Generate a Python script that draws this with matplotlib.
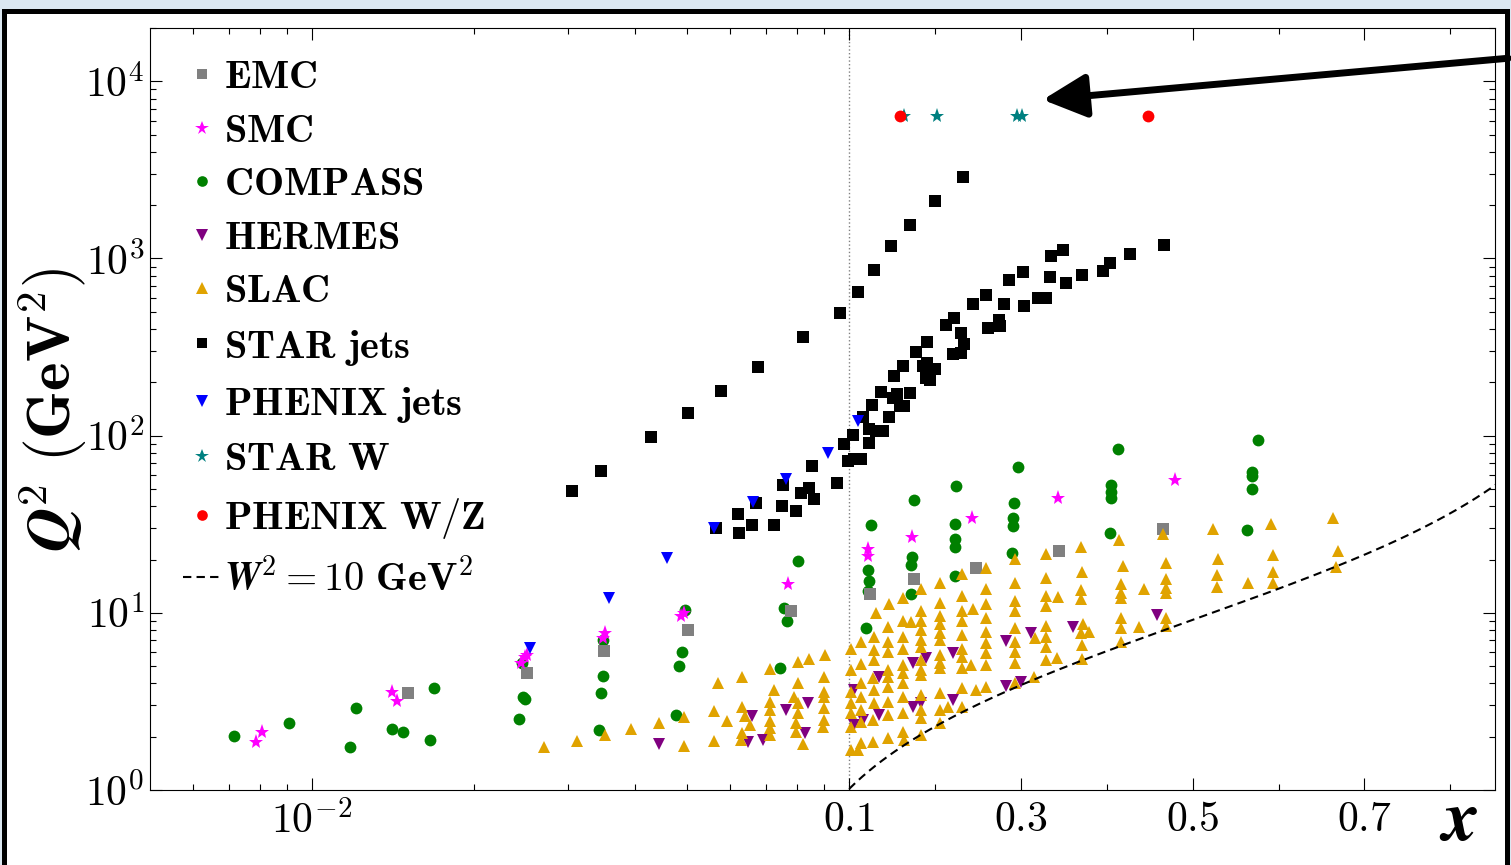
import numpy as np
import matplotlib
matplotlib.use('Agg')
import matplotlib.pyplot as plt
from matplotlib.patches import Rectangle, FancyArrowPatch

plt.rcParams['font.family'] = 'serif'
plt.rcParams['font.serif'] = ['cmr10']
plt.rcParams['mathtext.fontset'] = 'cm'
plt.rcParams['axes.formatter.use_mathtext'] = True

# %%
# Kinematic coverage, values (x, Q^2 in GeV^2)
emc_x = [0.0151, 0.0252, 0.0350, 0.0502, 0.0780, 0.124, 0.176, 0.248, 0.344, 0.466]
emc_q2 = [3.51, 4.55, 6.06, 8.05, 10.3, 12.8, 15.6, 18.0, 22.4, 29.8]

smc_x = [0.00787, 0.00807, 0.0141, 0.0144, 0.0245, 0.0249, 0.0252, 0.0349, 0.0351,
         0.0487, 0.0492, 0.0770, 0.122, 0.122, 0.173, 0.243, 0.343, 0.480]
smc_q2 = [1.86, 2.12, 3.56, 3.17, 5.18, 5.60, 5.75, 7.17, 7.65,
          9.65, 10.0, 14.6, 23.0, 21.0, 26.9, 34.4, 44.5, 56.2]

compass_x = [0.00716, 0.00906, 0.0118, 0.0121, 0.0141, 0.0148, 0.0166, 0.0169,
             0.0243, 0.0247, 0.0249, 0.0246,
             0.0342, 0.0345, 0.0349, 0.0349,
             0.0477, 0.0483, 0.0489, 0.0494,
             0.0744, 0.0757, 0.0767, 0.0804,
             0.120, 0.122, 0.123, 0.122, 0.126,
             0.172, 0.173, 0.172, 0.176,
             0.223, 0.223, 0.223, 0.223, 0.224,
             0.290, 0.291, 0.291, 0.292, 0.297,
             0.404, 0.405, 0.405, 0.405, 0.413,
             0.563, 0.569, 0.569, 0.569, 0.576]
compass_q2 = [2.01, 2.38, 1.75, 2.89, 2.20, 2.12, 1.91, 3.75,
              2.51, 3.34, 3.25, 5.18,
              2.18, 3.51, 4.38, 6.98,
              2.64, 4.99, 5.98, 10.4,
              4.86, 10.6, 9.05, 19.7,
              8.16, 17.5, 15.2, 13.35, 31.4,
              18.7, 20.7, 12.84, 43.4,
              16.2, 23.6, 26.2, 31.8, 52.0,
              21.8, 31.0, 34.4, 41.7, 66.6,
              28.3, 44.5, 48.0, 52.7, 84.0,
              29.4, 50.0, 59.5, 62.5, 94.4]

hermes_x = [0.0442, 0.0649, 0.0660, 0.0692, 0.0764, 0.0829, 0.0839, 0.106, 0.106,
            0.116, 0.135, 0.135, 0.174, 0.190, 0.174, 0.184, 0.221, 0.221,
            0.283, 0.300, 0.283, 0.312, 0.361, 0.459]
hermes_q2 = [1.82, 1.86, 2.61, 1.91, 2.82, 2.09, 3.09, 3.65, 2.32,
             2.48, 4.32, 2.64, 5.18, 5.53, 2.93, 3.09, 5.90, 3.21,
             3.85, 4.05, 6.89, 7.65, 8.27, 9.78]

slac_x = [0.0271, 0.0312, 0.0351, 0.0392, 0.0442, 0.0492, 0.0492, 0.0561, 0.0561, 0.0571,
          0.0593, 0.0633, 0.0633, 0.0641, 0.0633, 0.0630, 0.0655,
          0.0713, 0.0726, 0.0713, 0.0713, 0.0713, 0.0713, 0.0713,
          0.0804, 0.0843, 0.0903, 0.0804, 0.0790, 0.0804, 0.0804, 0.0797, 0.0797,
          0.0899, 0.0899, 0.0899, 0.0899, 0.0899, 0.0895, 0.0822,
          0.102, 0.102, 0.102, 0.102, 0.102, 0.102, 0.102,
          0.114, 0.114, 0.114, 0.114, 0.114, 0.114, 0.114, 0.1105,
          0.131, 0.129, 0.129, 0.129, 0.128, 0.129, 0.129, 0.128, 0.128,
          0.1465, 0.145, 0.145, 0.145, 0.145, 0.145, 0.145, 0.145, 0.145, 0.145,
          0.163, 0.163, 0.163, 0.163, 0.163, 0.163, 0.163, 0.163, 0.163, 0.163, 0.164,
          0.172, 0.184,
          0.184, 0.184, 0.184, 0.184, 0.184, 0.184, 0.184, 0.184, 0.184, 0.184, 0.184, 0.184,
          0.206, 0.206, 0.206, 0.206, 0.206, 0.206, 0.206, 0.206, 0.206, 0.206, 0.206, 0.206,
          0.215,
          0.231, 0.231, 0.231, 0.231, 0.231, 0.231, 0.231, 0.231, 0.231, 0.231,
          0.244, 0.242, 0.248,
          0.259, 0.259, 0.259, 0.259, 0.259, 0.259, 0.259, 0.259, 0.259,
          0.293, 0.293, 0.293, 0.293, 0.293, 0.293, 0.293, 0.293, 0.293,
          0.329, 0.329, 0.329, 0.329, 0.329, 0.329, 0.329, 0.329,
          0.317, 0.315, 0.343, 0.342,
          0.370, 0.371, 0.370, 0.370, 0.372, 0.370, 0.379, 0.371, 0.371,
          0.414, 0.419, 0.416, 0.416, 0.417, 0.417, 0.417, 0.417, 0.443, 0.438,
          0.466, 0.469, 0.469, 0.469, 0.469, 0.469, 0.469,
          0.524, 0.529, 0.528, 0.528, 0.565, 0.591, 0.594, 0.593, 0.594,
          0.663, 0.669, 0.667]
slac_q2 = [1.75, 1.89, 2.04, 2.20, 2.38, 2.58, 1.77, 2.78, 1.89, 4.00,
           2.45, 4.32, 2.93, 2.61, 2.09, 1.91, 2.32,
           4.80, 3.65, 3.13, 2.82, 2.45, 2.23, 2.04,
           5.25, 5.46, 5.75, 4.00, 3.34, 3.09, 2.71, 2.38, 2.12,
           4.32, 3.56, 3.34, 2.89, 2.48, 2.26, 1.82,
           6.29, 4.73, 3.56, 3.09, 2.71, 2.26, 1.68,
           6.81, 5.12, 4.00, 3.34, 2.82, 2.41, 1.84, 1.68,
           10.0, 7.26, 6.13, 5.39, 4.27, 3.65, 3.09, 2.48, 1.86,
           11.28, 8.27, 6.81, 5.98, 4.73, 4.32, 3.80, 3.13, 2.64, 1.96,
           12.19, 9.05, 7.26, 6.29, 5.05, 4.55, 4.00, 3.34, 2.71, 2.12, 1.91,
           8.82, 13.70,
           10.30, 9.05, 7.95, 6.98, 6.38, 5.39, 4.73, 4.44, 3.42, 2.82, 2.54, 2.04,
           14.81, 11.43, 9.65, 8.70, 7.65, 6.98, 5.75, 5.18, 4.86, 3.51, 2.82, 2.38,
           2.93,
           16.64, 12.51, 10.30, 9.05, 7.45, 6.29, 5.60, 4.86, 3.75, 2.93,
           10.57, 5.05, 3.65,
           18.0, 13.70, 11.28, 9.41, 7.75, 6.72, 5.90, 5.05, 3.80,
           20.2, 14.81, 11.73, 10.30, 8.16, 6.81, 5.98, 5.18, 4.00,
           21.56, 15.8, 12.51, 10.99, 8.48, 7.26, 6.38, 5.39,
           7.17, 4.32, 12.35, 5.53,
           23.6, 17.08, 13.52, 12.04, 8.70, 7.65, 7.75, 6.55, 5.46,
           25.85, 18.46, 14.6, 13.0, 12.19, 9.29, 8.16, 6.81, 13.70, 8.37,
           27.94, 19.2, 15.6, 13.88, 13.01, 9.41, 8.48,
           29.8, 20.2, 16.4, 14.06, 14.81, 31.8, 21.3, 17.08, 14.81,
           34.4, 22.4, 18.2]

# STAR jets: upper branch then lower branch
star_jets_x = [0.0305, 0.0346, 0.0428, 0.0502, 0.0578, 0.0678, 0.0821, 0.0962, 0.1105,
               0.129, 0.149, 0.171, 0.200, 0.2326,
               0.0566, 0.0625, 0.0622, 0.0660, 0.0672, 0.0725, 0.0750, 0.0753, 0.0797,
               0.0814, 0.0843, 0.0861, 0.0853, 0.0950, 0.0979, 0.0996, 0.1058, 0.114,
               0.1047, 0.1163, 0.1233, 0.1233, 0.1314, 0.1395, 0.1267, 0.1465, 0.1372,
               0.1512, 0.1558, 0.1593, 0.164, 0.1709, 0.1523, 0.1628, 0.1779, 0.1907,
               0.186, 0.1907, 0.200, 0.1895, 0.1942, 0.2128, 0.2221, 0.2302, 0.2337,
               0.2209, 0.2302, 0.2442, 0.2593, 0.2616, 0.2744, 0.2756, 0.2802, 0.286,
               0.3023, 0.3035, 0.3198, 0.3291, 0.3349, 0.3488, 0.3337, 0.3523, 0.3709,
               0.3953, 0.4035, 0.4267, 0.4663]
star_jets_q2 = [48.8, 63.2, 98.2, 134, 178, 243, 359, 490, 651,
                865, 1181, 1550, 2117, 2888,
                30.2, 28.3, 36.2, 31.4, 41.7, 31.4, 40.2, 52.7, 37.6,
                47.5, 50.7, 44.0, 67.4, 54.1, 89.7, 71.9, 73.8, 73.8,
                101, 127, 90.8, 109, 106, 106, 149, 127, 176,
                163, 171, 147, 147, 174, 216, 246, 295, 336,
                246, 256, 237, 211, 205, 419, 459, 378, 328,
                288, 291, 550, 626, 403, 447, 414, 557, 760,
                844, 536, 602, 595, 1038, 1122, 790, 731, 811,
                855, 948, 1065, 1197]

phenix_jets_x = [0.0255, 0.0358, 0.0459, 0.0561, 0.0663, 0.0764, 0.0914, 0.1105]
phenix_jets_q2 = [6.30, 12.2, 20.5, 30.2, 42.3, 57.0, 79.8, 121]

star_w_x = [0.164, 0.202, 0.295, 0.301]
star_w_q2 = [6400, 6400, 6400, 6400]

phenix_wz_x = [0.159, 0.448]
phenix_wz_q2 = [6400, 6400]

# W^2 = 10 GeV^2 boundary
W2 = 10.0
M2 = 0.88

# %%
# x axis: log below 0.1, linear above
K = 860.0 / 538.0


def fwd(x):
    x = np.asarray(x, dtype=float)
    lg = np.log10(np.where(x > 0, x, 1e-12)) + 1
    return np.where(x < 0.1, lg, (x - 0.1) * K)


def inv(u):
    u = np.asarray(u, dtype=float)
    return np.where(u < 0, 10 ** (np.minimum(u, 0) - 1), 0.1 + u / K)


W, H = 1511, 865
fig = plt.figure(figsize=(W / 100, H / 100), dpi=100, facecolor='#dbe7f1')
fig.add_artist(Rectangle((4 / W, -0.05), (1507 - 4) / W, 1.05 - 11.5 / H,
                         transform=fig.transFigure, facecolor='white',
                         edgecolor='black', lw=3.6, zorder=-5))

ax = fig.add_axes([150 / W, 75 / H, 1345 / W, 762 / H])
ax.set_xscale('function', functions=(fwd, inv))
ax.set_yscale('log')

ms = dict(ls='none', mew=0)
ax.plot(emc_x, emc_q2, 's', color='grey', ms=8, label=r'$\mathbf{EMC}$', zorder=3, **ms)
ax.plot(smc_x, smc_q2, '*', color='magenta', ms=11, label=r'$\mathbf{SMC}$', zorder=4, **ms)
ax.plot(compass_x, compass_q2, 'o', color='green', ms=8.5, label=r'$\mathbf{COMPASS}$', zorder=2, **ms)
ax.plot(hermes_x, hermes_q2, 'v', color='purple', ms=9, label=r'$\mathbf{HERMES}$', zorder=4, **ms)
ax.plot(slac_x, slac_q2, '^', color='#e0a300', ms=9, label=r'$\mathbf{SLAC}$', zorder=5, **ms)
ax.plot(star_jets_x, star_jets_q2, 's', color='black', ms=8, label=r'$\mathbf{STAR\ jets}$', zorder=6, **ms)
ax.plot(phenix_jets_x, phenix_jets_q2, 'v', color='blue', ms=9, label=r'$\mathbf{PHENIX\ jets}$', zorder=7, **ms)
ax.plot(star_w_x, star_w_q2, '*', color='teal', ms=11, label=r'$\mathbf{STAR\ W}$', zorder=8, **ms)
ax.plot(phenix_wz_x, phenix_wz_q2, 'o', color='red', ms=8.5, label=r'$\mathbf{PHENIX\ W/Z}$', zorder=9, **ms)

xw = np.linspace(0.1, 0.86, 200)
ax.plot(xw, (W2 - M2) * xw / (1 - xw), color='black', ls=(0, (4, 2.5)), lw=1.5,
        label=r'$\boldsymbol{W}^{\mathbf{2}}\mathbf{=10\ GeV^{2}}$', zorder=10)

ax.axvline(0.1, color='grey', ls=':', lw=1, zorder=1)

ax.set_xlim(0.005, 0.852)
ax.set_ylim(1, 2e4)

ax.set_xticks([0.01, 0.1, 0.3, 0.5, 0.7])
ax.set_xticklabels([r'$10^{-2}$', r'$0.1$', r'$0.3$', r'$0.5$', r'$0.7$'])
ax.set_xticks([0.006, 0.007, 0.008, 0.009, 0.02, 0.03, 0.04, 0.05, 0.06, 0.07, 0.08, 0.09,
               0.2, 0.4, 0.6, 0.8], minor=True)
ax.set_yticks([1, 10, 100, 1000, 10000])
ax.set_yticklabels([r'$10^{0}$', r'$10^{1}$', r'$10^{2}$', r'$10^{3}$', r'$10^{4}$'])
ax.tick_params(which='both', direction='in', top=True, right=True, labelsize=30, width=0.8)
ax.tick_params(which='major', length=8.6)
ax.tick_params(which='minor', length=4.3)
ax.tick_params(axis='x', pad=8)
ax.tick_params(axis='y', pad=4)
for s in ax.spines.values():
    s.set_linewidth(0.8)

leg = ax.legend(loc='upper left', bbox_to_anchor=(0.0245, 0.958), frameon=False, fontsize=29,
                handlelength=0.94, handletextpad=0.07, labelspacing=0.43, borderpad=0,
                borderaxespad=0, numpoints=1, markerscale=0.9)

fig.text(52 / W, 1 - 410 / H, r'$\boldsymbol{Q}^{\mathbf{2}}\ \mathbf{(GeV^{2})}$',
         rotation=90, ha='center', va='center', fontsize=44)
fig.text(1459 / W, 1 - 822 / H, r'$\boldsymbol{x}$', ha='center', va='center', fontsize=52)

fig.add_artist(FancyArrowPatch((1.0, 1 - 58 / H), (1040 / W, 1 - 100 / H),
                               transform=fig.transFigure,
                               arrowstyle='-|>,head_length=0.7,head_width=0.35',
                               mutation_scale=38, lw=5, color='black', zorder=20))

fig.savefig('out.png', dpi=100, facecolor=fig.get_facecolor())
